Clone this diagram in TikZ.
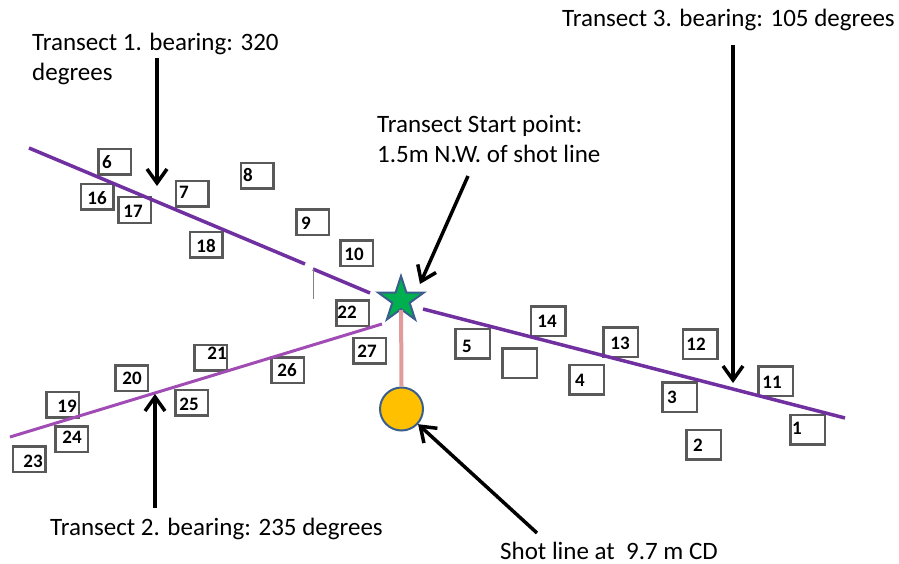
\documentclass[tikz,border=0pt]{standalone}
\usepackage{fontspec}
\setmainfont{Carlito}
\usetikzlibrary{arrows.meta,shapes.geometric}
\definecolor{tpurple}{RGB}{112,48,160}
\definecolor{tpurpleb}{RGB}{160,76,180}
\definecolor{boxgray}{RGB}{89,89,89}
\definecolor{pinkline}{RGB}{225,155,155}
\definecolor{stargreen}{RGB}{0,176,80}
\definecolor{edgeblue}{RGB}{58,95,140}
\definecolor{gold}{RGB}{255,192,0}
\definecolor{thingray}{RGB}{130,130,130}
\newcommand\nbox[7]{\node[#1] (#2) at (#3,#4) {}; \node[numlab] (#2t) at (#5,#6) {#7};}
\begin{document}
\begin{tikzpicture}[x=1pt,y=-1pt,
  lbox/.style={draw=boxgray, line width=2.5pt, fill=white, minimum width=32.5pt, minimum height=25.5pt, inner sep=0pt},
  rbox/.style={draw=boxgray, line width=2.5pt, fill=white, minimum width=34.5pt, minimum height=29.5pt, inner sep=0pt},
  numlab/.style={font=\fontsize{19}{22}\selectfont\bfseries, inner sep=0pt},
  lbl/.style={font=\fontsize{25}{30}\selectfont, inner sep=0pt, anchor=base west},
  arr/.style={line width=3.5pt, -{Straight Barb[length=14pt,width=20pt]}},
  tline/.style={line width=3.5pt, tpurple},
  tlineb/.style={line width=3pt, tpurpleb}]
\useasboundingbox (0,0) rectangle (899,564);
\fill[white] (0,0) rectangle (899,564);

% boxes (left group)
\nbox{lbox}{b6}{114.5}{162}{107}{162}{6}
\nbox{lbox}{b16}{97}{197}{97}{198}{16}
\nbox{lbox}{b17}{134.5}{210}{133}{211}{17}
\nbox{lbox}{b7}{192}{194}{184}{192}{7}
\nbox{lbox}{b8}{257}{176}{248}{175}{8}
\nbox{lbox}{b9}{312.5}{222}{306}{223}{9}
\nbox{lbox}{b10}{356.5}{253}{354}{254}{10}
\nbox{lbox}{b18}{206}{244.5}{206}{246}{18}
\nbox{lbox}{b22}{352.5}{313}{347}{312}{22}
\nbox{lbox}{b27}{369.5}{350.5}{367}{351}{27}
\nbox{lbox}{b21}{210.5}{357.5}{217}{353}{21}
\nbox{lbox}{b26}{287.5}{370}{287}{370}{26}
\nbox{lbox}{b20}{131.5}{378}{132}{378}{20}
\nbox{lbox}{b25}{191.5}{402.5}{189}{404}{25}
\nbox{lbox}{b19}{62.5}{404.5}{67}{406}{19}
\nbox{lbox}{b24}{71.5}{439}{72}{437}{24}
\nbox{lbox}{b23}{29}{459}{33}{461}{23}
% boxes (right group)
\nbox{rbox}{b5}{472.5}{343.5}{467}{346}{5}
\node[rbox] (bempty) at (519.5,363) {};
\nbox{rbox}{b14}{548}{321}{547}{321}{14}
\nbox{rbox}{b4}{586.5}{379.5}{580}{380}{4}
\nbox{rbox}{b13}{620.5}{342}{620}{343}{13}
\nbox{rbox}{b12}{700}{344}{696}{344}{12}
\nbox{rbox}{b3}{679.5}{397}{672}{397}{3}
\nbox{rbox}{b11}{775.5}{381}{772}{382}{11}
\nbox{rbox}{b1}{807.5}{429.5}{797}{428}{1}
\nbox{rbox}{b2}{703.5}{444.5}{698}{445}{2}

% transect lines
\coordinate (t1a) at (29,148);
\coordinate (t1b) at (305,264);
\coordinate (t1c) at (313,269);
\coordinate (t1d) at (370,293);
\coordinate (t3a) at (423,309);
\coordinate (t3b) at (845,418);
\coordinate (t2a) at (10,437);
\coordinate (t2b) at (382,324);
\coordinate (gtop) at (313,269);
\coordinate (gbot) at (313,299);
\draw[tline] (t1a) -- (t1b);
\draw[tline] (t1c) -- (t1d);
\draw[tline] (t3a) -- (t3b);
\draw[tlineb] (t2a) -- (t2b);
\draw[thingray, line width=1pt] (gtop) -- (gbot);

% start point, shot line
\node[star, star points=5, star point ratio=2.618, minimum size=48pt, inner sep=0pt,
      fill=stargreen, draw=edgeblue, line width=2pt] (start) at (401,300) {};
\node[circle, minimum size=43pt, inner sep=0pt, fill=gold, draw=edgeblue, line width=2pt] (shot) at (401.5,409) {};
\draw[pinkline, line width=4pt, shorten <=10pt] (start.center) -- (shot.north);

% labels
\node[lbl] (lab1a) at (32,51) {Transect 1. bearing: 320};
\node[lbl] (lab1b) at (32,81) {degrees};
\node[lbl] (lab3) at (562,27) {Transect 3. bearing: 105 degrees};
\node[lbl] (labsa) at (377,133) {Transect Start point:};
\node[lbl] (labsb) at (377,163) {1.5m N.W. of shot line};
\node[lbl] (lab2) at (50,535) {Transect 2. bearing: 235 degrees};
\node[lbl] (labshot) at (500,559) {Shot line at\ \ 9.7 m CD};

% arrows
\coordinate (a1s) at (157,58);
\coordinate (a1e) at (157,186);
\coordinate (a3s) at (733,45);
\coordinate (a3e) at (733,383);
\coordinate (a2s) at (155,508);
\coordinate (a2e) at (155,394);
\coordinate (ass) at (468,176);
\coordinate (ase) at (420,284);
\coordinate (ahs) at (537,533);
\draw[arr] (a1s) -- (a1e);
\draw[arr] (a3s) -- (a3e);
\draw[arr] (a2s) -- (a2e);
\draw[arr] (ass) -- (ase);
\draw[arr] (ahs) -- (shot);
\end{tikzpicture}
\end{document}
